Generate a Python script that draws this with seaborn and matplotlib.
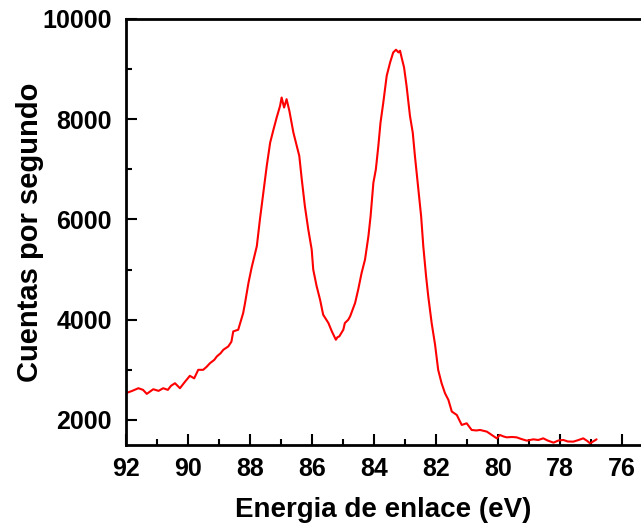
import matplotlib
matplotlib.use("Agg")
import matplotlib.pyplot as plt
from matplotlib.ticker import MultipleLocator
import seaborn as sns
import pandas as pd

energy = [92.00, 91.80, 91.60, 91.45, 91.33, 91.12, 90.95, 90.80, 90.65, 90.55,
          90.42, 90.26, 90.10, 89.94, 89.80, 89.67, 89.51, 89.40, 89.29, 89.15,
          89.07, 88.95, 88.86, 88.70, 88.60, 88.54, 88.38, 88.22, 88.16, 88.05,
          87.95, 87.78, 87.68, 87.57, 87.46, 87.35, 87.24, 87.14, 87.03, 86.98,
          86.90, 86.82, 86.73, 86.60, 86.49, 86.41, 86.33, 86.23, 86.12, 86.01,
          85.96, 85.85, 85.74, 85.64, 85.47, 85.36, 85.23, 85.18, 85.12, 84.99,
          84.94, 84.83, 84.77, 84.61, 84.51, 84.40, 84.29, 84.18, 84.11, 84.02,
          83.94, 83.86, 83.79, 83.70, 83.59, 83.48, 83.38, 83.29, 83.21, 83.16,
          83.11, 83.03, 82.95, 82.84, 82.75, 82.68, 82.57, 82.48, 82.41, 82.32,
          82.25, 82.14, 82.03, 81.93, 81.82, 81.71, 81.60, 81.49, 81.33, 81.17,
          81.01, 80.85, 80.70, 80.58, 80.45, 80.36, 80.20, 80.04, 79.94, 79.82,
          79.72, 79.55, 79.40, 79.25, 79.07, 78.86, 78.70, 78.54, 78.40, 78.21,
          78.05, 77.89, 77.75, 77.57, 77.40, 77.25, 77.12, 77.03, 76.82]
counts = [2534, 2580, 2633, 2600, 2520, 2613, 2580, 2633, 2600, 2680,
          2733, 2633, 2760, 2880, 2830, 3000, 3000, 3060, 3133, 3200,
          3267, 3330, 3400, 3467, 3560, 3767, 3800, 4133, 4333, 4733,
          5033, 5467, 6000, 6533, 7067, 7533, 7800, 8033, 8267, 8433,
          8233, 8400, 8167, 7733, 7467, 7267, 6800, 6267, 5800, 5400,
          5000, 4667, 4400, 4100, 3933, 3767, 3600, 3650, 3667, 3800,
          3933, 4000, 4067, 4333, 4600, 4933, 5200, 5667, 6067, 6733,
          7000, 7467, 7933, 8333, 8867, 9133, 9333, 9387, 9333, 9367,
          9233, 9033, 8667, 8067, 7733, 7267, 6600, 6067, 5467, 4867,
          4467, 3933, 3500, 3000, 2733, 2533, 2400, 2167, 2100, 1900,
          1933, 1800, 1790, 1800, 1780, 1767, 1700, 1633, 1700, 1670,
          1653, 1660, 1653, 1620, 1587, 1613, 1600, 1633, 1590, 1547,
          1590, 1600, 1570, 1567, 1600, 1633, 1580, 1533, 1613]

x_ticks = [92, 90, 88, 86, 84, 82, 80, 78, 76]
y_ticks = [2000, 4000, 6000, 8000, 10000]
x_label = "Energia de enlace (eV)"
y_label = "Cuentas por segundo"

sns.set_style("ticks")
plt.rcParams["font.family"] = ["Liberation Sans", "DejaVu Sans"]
plt.rcParams["font.weight"] = "bold"

df = pd.DataFrame({"energy": energy, "counts": counts})

fig = plt.figure(figsize=(6.41, 5.29), dpi=100)
ax = fig.add_axes([126 / 641, 84 / 529, 1 - 126 / 641, 426 / 529])
sns.lineplot(data=df, x="energy", y="counts", sort=False, estimator=None,
             color="#ff0000", linewidth=1.5, ax=ax)

ax.set_xlim(92, 92 - 515 / 31)
ax.set_ylim(1500, 10000)
ax.set_xticks(x_ticks)
ax.set_yticks(y_ticks)
ax.xaxis.set_minor_locator(MultipleLocator(1))
ax.yaxis.set_minor_locator(MultipleLocator(1000))
ax.tick_params(which="major", direction="in", length=8, width=1.5,
               labelsize=18, colors="black", labelcolor="black")
ax.tick_params(axis="x", which="major", pad=9)
ax.tick_params(axis="y", which="major", pad=10)
ax.tick_params(which="minor", direction="in", length=4, width=1.5, colors="black")
for lab in ax.get_xticklabels() + ax.get_yticklabels():
    lab.set_fontweight("bold")
for s in ["left", "bottom", "top"]:
    ax.spines[s].set_linewidth(2)
    ax.spines[s].set_color("black")
ax.spines["right"].set_visible(False)

ax.set_xlabel(x_label, fontsize=20, fontweight="bold", labelpad=11, color="black")
ax.set_ylabel(y_label, fontsize=21, fontweight="bold", labelpad=-1, color="black")

fig.savefig("out.png", dpi=100)
